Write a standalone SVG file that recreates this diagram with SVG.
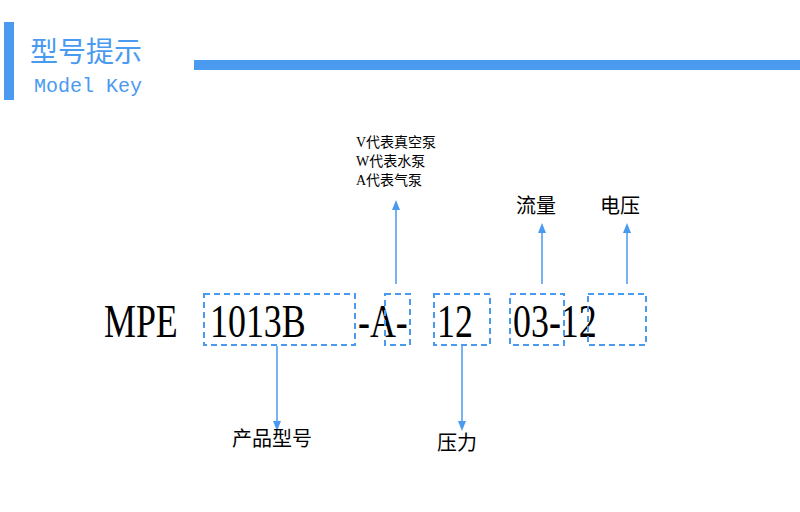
<svg xmlns="http://www.w3.org/2000/svg" width="800" height="512" viewBox="0 0 800 512">
<style>
.b{fill:none;stroke:#4a9af0;stroke-width:2;stroke-dasharray:6,4}
.c{stroke:#4a9af0;stroke-width:1.5;fill:none}
.big{font-family:"Liberation Serif",serif;font-size:46px;fill:#000}
.lab{font-family:"Liberation Serif","Noto Sans CJK SC",serif;font-size:20px;fill:#000}
.sm{font-family:"Liberation Serif","Noto Sans CJK SC",serif;font-size:14px;fill:#000}
</style>
<defs><marker id="ar" markerWidth="10" markerHeight="10" refX="5" refY="5" orient="auto" markerUnits="userSpaceOnUse"><path d="M0,1 L10,5 L0,9 Z" fill="#4a9af0"/></marker></defs>
<g id="header">
<rect x="4" y="22" width="10" height="78" fill="#4a9af0"/>
<text x="30" y="62" font-family="Noto Sans CJK SC,sans-serif" font-size="28" fill="#4a9af0">型号提示</text>
<text x="34" y="92" font-family="Liberation Mono,monospace" font-size="20" fill="#4a9af0">Model Key</text>
<rect x="194" y="60" width="606" height="10" fill="#4a9af0"/>
</g>
<g id="code">
<text class="big" transform="translate(104,337) scale(0.78,1)">MPE</text>
<text class="big" transform="translate(210,337) scale(0.78,1)">1013B</text>
<text class="big" transform="translate(358,337) scale(0.78,1)">-A-</text>
<text class="big" transform="translate(437,337) scale(0.78,1)">12</text>
<text class="big" transform="translate(513,337) scale(0.78,1)">03-12</text>
</g>
<g id="boxes">
<rect id="n1" class="b" x="204" y="294" width="151" height="51"/>
<rect id="n2" class="b" x="385" y="294" width="25" height="51"/>
<rect id="n3" class="b" x="434" y="294" width="56" height="51"/>
<rect id="n4" class="b" x="510" y="294" width="54" height="51"/>
<rect id="n5" class="b" x="588" y="294" width="58" height="51"/>
</g>
<g id="connectors">
<line class="c" x1="277" y1="346" x2="277" y2="426" marker-end="url(#ar)"/>
<line class="c" x1="396" y1="284" x2="396" y2="205" marker-end="url(#ar)"/>
<line class="c" x1="462" y1="346" x2="462" y2="426" marker-end="url(#ar)"/>
<line class="c" x1="542" y1="284" x2="542" y2="228" marker-end="url(#ar)"/>
<line class="c" x1="627" y1="284" x2="627" y2="228" marker-end="url(#ar)"/>
</g>
<g id="labels">
<text class="sm" x="356" y="147">V代表真空泵</text>
<text class="sm" x="356" y="166">W代表水泵</text>
<text class="sm" x="356" y="185">A代表气泵</text>
<text class="lab" x="516" y="213">流量</text>
<text class="lab" x="600" y="213">电压</text>
<text class="lab" x="232" y="446" font-size="18">产品型号</text>
<text class="lab" x="437" y="450">压力</text>
</g>
</svg>
